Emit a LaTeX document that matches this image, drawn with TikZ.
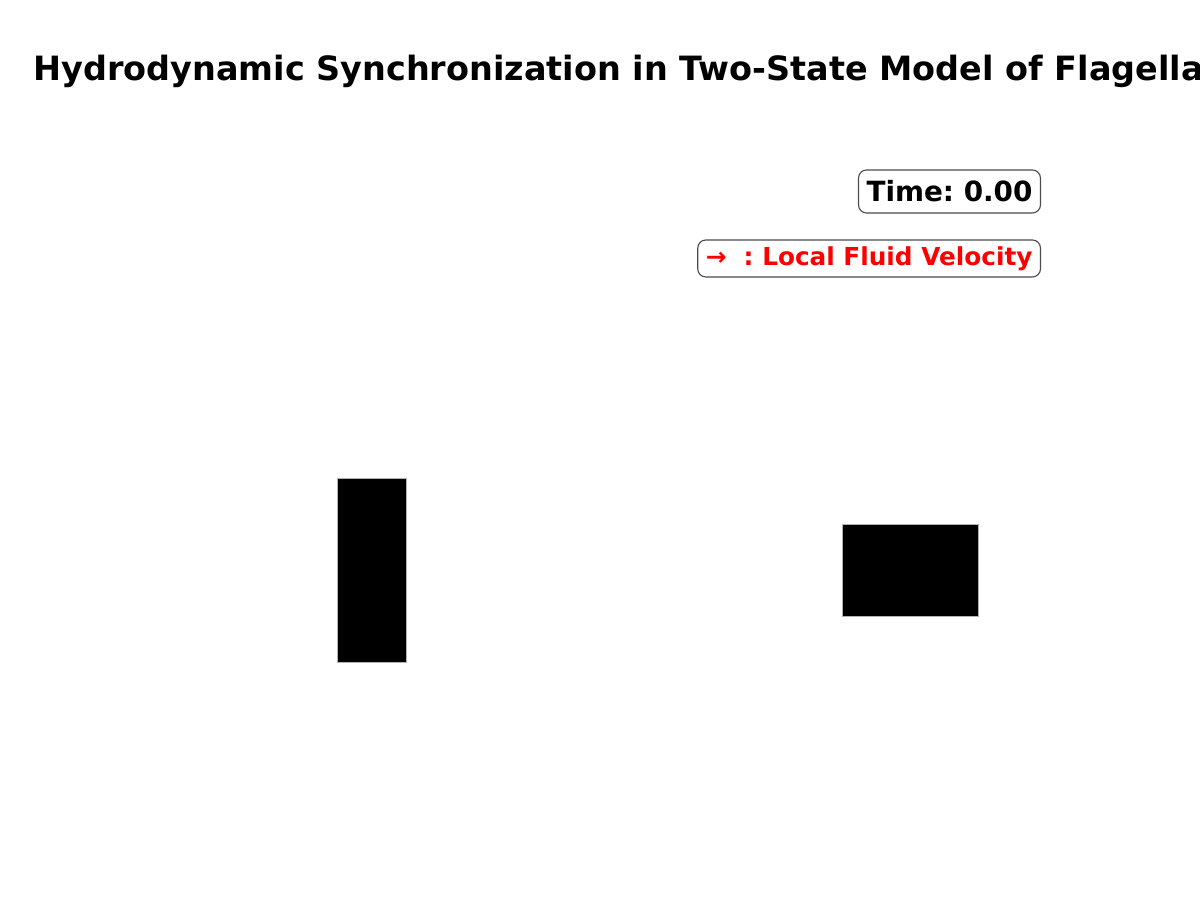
\documentclass[tikz,border=0pt]{standalone}
\usepackage{fontspec}
\setmainfont{DejaVu Sans}
\usepackage{tikz}
\usetikzlibrary{positioning}
\frenchspacing

\begin{document}
\begin{tikzpicture}[
  labelbox/.style={draw=black!70, line width=0.8pt, rounded corners=0.2cm, fill=white,
                   inner xsep=0.2cm, inner ysep=0pt, font=\bfseries},
  paddle/.style={fill=black, draw=black!30, line width=0.3pt, inner sep=0pt}
]
\useasboundingbox (0,0) rectangle (30,22.5);

\node[anchor=base west, inner sep=0pt, font=\fontsize{23.8}{28}\selectfont\bfseries] (title)
  at (0.825,20.475) {Hydrodynamic Synchronization in Two-State Model of Flagella};

\node[labelbox, anchor=east, minimum height=1.075cm,
      font=\fontsize{19.8}{24}\selectfont\bfseries] (time) at (26.025,17.7125) {Time: 0.00};
\node[labelbox, anchor=east, minimum height=0.925cm, text=red,
      font=\fontsize{17.6}{21}\selectfont\bfseries] (legend) at (26.025,16.0375)
  {→\ \ : Local Fluid Velocity};

% the two flagella
\node[paddle, minimum width=1.725cm, minimum height=4.6cm] (flagL) at (9.2875,8.25) {};
\node[paddle, minimum width=3.4cm, minimum height=2.3cm] (flagR) at (22.75,8.25) {};
\end{tikzpicture}
\end{document}
